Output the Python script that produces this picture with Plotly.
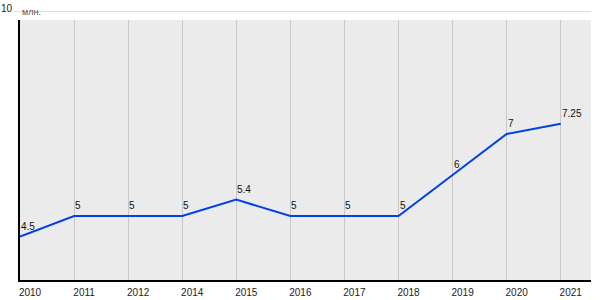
import plotly.graph_objects as go

years = ["2010", "2011", "2012", "2014", "2015", "2016", "2017", "2018", "2019", "2020", "2021"]
values = [4.5, 5, 5, 5, 5.4, 5, 5, 5, 6, 7, 7.25]
value_labels = ["4.5", "5", "5", "5", "5.4", "5", "5", "5", "6", "7", "7.25"]
y_top = 10
y_bottom = 3.44
unit_label = "млн."

font = "Liberation Sans, Arial, sans-serif"

fig = go.Figure()
fig.add_trace(go.Scatter(
    x=years, y=values, mode="lines",
    line=dict(color="#0040e8", width=2),
    cliponaxis=False, hoverinfo="skip",
))

label_annotations = [
    dict(xref="x", yref="y", x=i, y=v, text=t, showarrow=False,
         xanchor="left", yanchor="bottom", xshift=-1, yshift=3,
         font=dict(family=font, size=10, color="#111111"))
    for i, (v, t) in enumerate(zip(values, value_labels))
]

fig.update_layout(
    width=600, height=300,
    margin=dict(l=20, r=9, t=11, b=20, autoexpand=False),
    paper_bgcolor="white", plot_bgcolor="#ebebeb",
    showlegend=False,
    font=dict(family=font, size=10, color="#222222"),
    xaxis=dict(
        type="category", range=[0, 10.56], automargin=False,
        showgrid=True, gridcolor="#c8c8c8", gridwidth=1,
        showline=True, linecolor="#000000", linewidth=2,
        ticks="", ticklabelshift=10, ticklabelstandoff=2,
        tickfont=dict(family=font, size=10, color="#222222"),
        zeroline=False, fixedrange=True,
    ),
    yaxis=dict(
        range=[y_bottom, y_top], automargin=False,
        showgrid=False, showticklabels=False, ticks="",
        showline=True, linecolor="#000000", linewidth=2,
        zeroline=False, fixedrange=True,
    ),
    shapes=[
        dict(type="rect", xref="paper", yref="y", x0=-0.01, x1=1.0, y0=y_top - 0.22, y1=y_top,
             fillcolor="white", line=dict(width=0), layer="above"),
        dict(type="line", xref="paper", yref="y", x0=-0.01, x1=1.0, y0=y_top, y1=y_top,
             line=dict(color="#bbbbbb", width=1), layer="above"),
    ],
    annotations=label_annotations + [
        dict(xref="paper", yref="y", x=0, y=y_top, text=str(y_top), showarrow=False,
             xanchor="right", yanchor="middle", xshift=-5, yshift=3,
             font=dict(family=font, size=10, color="#222222")),
        dict(xref="paper", yref="y", x=0, y=y_top, text=unit_label, showarrow=False,
             xanchor="left", yanchor="middle", xshift=0, yshift=-1,
             font=dict(family=font, size=9, color="#555555")),
    ],
)

fig.write_html("out.html")
